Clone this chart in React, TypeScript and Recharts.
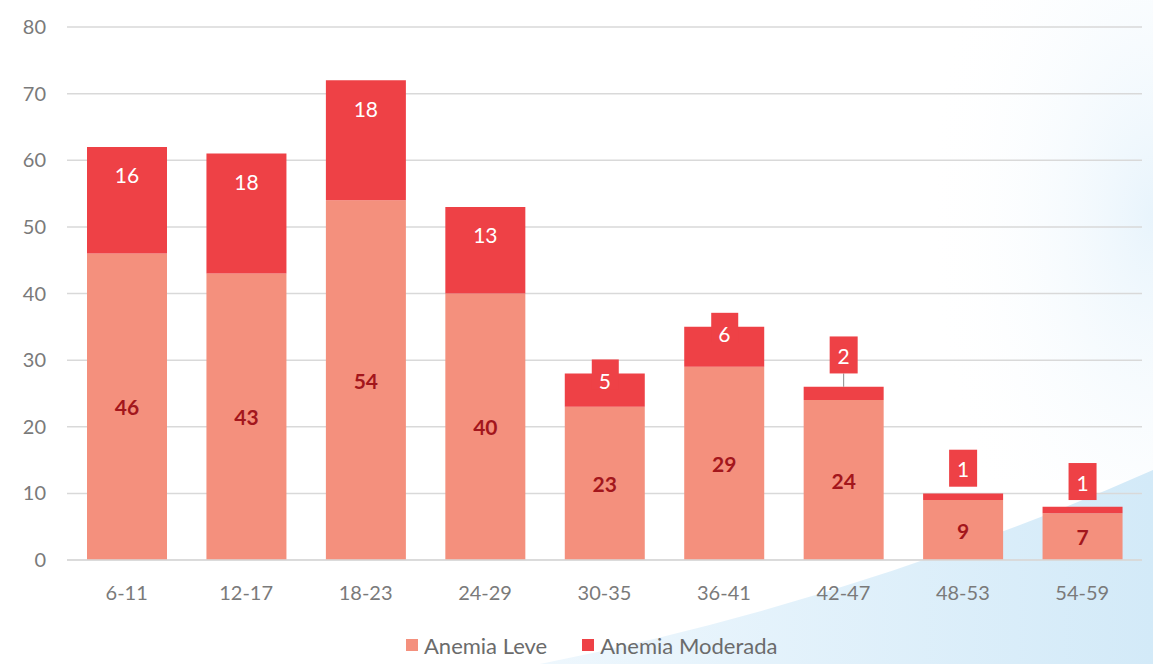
import { BarChart, Bar, XAxis, YAxis, CartesianGrid, Legend, LabelList } from 'recharts';

const ageGroups = ['6-11', '12-17', '18-23', '24-29', '30-35', '36-41', '42-47', '48-53', '54-59'];
const anemiaLeve = [46, 43, 54, 40, 23, 29, 24, 9, 7];
const anemiaModerada = [16, 18, 18, 13, 5, 6, 2, 1, 1];
const yTicks = [0, 10, 20, 30, 40, 50, 60, 70, 80];

const LEVE = '#F4907D';
const MODERADA = '#EE4146';
const DARK_LABEL = '#A3161C';
const AXIS_TEXT = '#7a7a7a';
const FONT = 'Lato, "Noto Sans", sans-serif';

const data = ageGroups.map((group, i) => ({
  group,
  leve: anemiaLeve[i],
  moderada: anemiaModerada[i],
}));

const LeveLabel = (props: any) => {
  const { x, y, width, height, value } = props;
  return (
    <text
      x={x + width / 2}
      y={y + height / 2}
      textAnchor="middle"
      dominantBaseline="central"
      fill={DARK_LABEL}
      fontWeight={700}
      fontSize={21}
      fontFamily={FONT}
    >
      {value}
    </text>
  );
};

const ModeradaLabel = (props: any) => {
  const { x, y, width, height, value } = props;
  const cx = x + width / 2;
  const text = (ty: number) => (
    <text
      x={cx}
      y={ty}
      textAnchor="middle"
      dominantBaseline="central"
      fill="#FFFFFF"
      fontSize={21}
      fontFamily={FONT}
    >
      {value}
    </text>
  );
  if (height >= 60) return text(y + 28);
  if (height >= 25) {
    // callout box sitting on top of the segment
    return (
      <g>
        <rect x={cx - 13} y={y - 14} width={27} height={30} fill={MODERADA} />
        {text(y + 7)}
      </g>
    );
  }
  const boxBottom = y - height;
  return (
    <g>
      {height > 8 && <line x1={cx} x2={cx} y1={boxBottom} y2={y} stroke="#8a8a8a" strokeWidth={1} />}
      <rect x={cx - 14} y={boxBottom - 37} width={28} height={37} fill={MODERADA} />
      {text(boxBottom - 18)}
    </g>
  );
};

const LegendContent = () => (
  <div
    style={{
      height: 28,
      display: 'flex',
      justifyContent: 'flex-start',
      alignItems: 'center',
      gap: 35,
      paddingLeft: 406,
      fontFamily: FONT,
      fontSize: 22,
      color: '#6b6b6b',
    }}
  >
    {[
      { name: 'Anemia Leve', color: LEVE },
      { name: 'Anemia Moderada', color: MODERADA },
    ].map((item) => (
      <div key={item.name} style={{ display: 'flex', alignItems: 'center', gap: 6 }}>
        <span style={{ width: 12, height: 12, background: item.color, display: 'inline-block' }} />
        <span>{item.name}</span>
      </div>
    ))}
  </div>
);

export default function App() {
  return (
    <div style={{ position: 'absolute', left: 0, top: 0, width: 1153, height: 664, background: '#ffffff', overflow: 'hidden' }}>
      <svg width={1153} height={664} style={{ position: 'absolute', left: 0, top: 0 }}>
        <defs>
          <linearGradient id="swoosh" x1="0" y1="0" x2="1" y2="0">
            <stop offset="0%" stopColor="#eef7fd" />
            <stop offset="100%" stopColor="#d3eaf8" />
          </linearGradient>
          <radialGradient id="glow" cx="1" cy="0.45" r="0.9">
            <stop offset="0%" stopColor="#e8f4fc" />
            <stop offset="100%" stopColor="#ffffff" stopOpacity={0} />
          </radialGradient>
        </defs>
        <rect x={900} y={0} width={253} height={480} fill="url(#glow)" />
        <path d="M 540 664 Q 860 600 1153 470 L 1153 664 Z" fill="url(#swoosh)" />
      </svg>
      <div style={{ position: 'absolute', left: 0, top: 0 }}>
        <BarChart
          width={1153}
          height={664}
          data={data}
          margin={{ top: 27, right: 11, bottom: 5, left: 0 }}
          barSize={80}
        >
          <CartesianGrid vertical={false} stroke="#d9d9d9" strokeWidth={1.5} />
          <XAxis
            dataKey="group"
            axisLine={{ stroke: '#d9d9d9', strokeWidth: 1.5 }}
            tickLine={false}
            tickSize={0}
            tickMargin={26}
            height={71}
            tick={{ fill: AXIS_TEXT, fontSize: 20, fontFamily: FONT }}
          />
          <YAxis
            domain={[0, 80]}
            ticks={yTicks}
            axisLine={false}
            tickLine={false}
            tickSize={0}
            tickMargin={21}
            width={67}
            tick={{ fill: AXIS_TEXT, fontSize: 20, fontFamily: FONT }}
          />
          <Legend verticalAlign="bottom" content={<LegendContent />} />
          <Bar dataKey="leve" name="Anemia Leve" stackId="a" fill={LEVE} isAnimationActive={false}>
            <LabelList dataKey="leve" content={<LeveLabel />} />
          </Bar>
          <Bar dataKey="moderada" name="Anemia Moderada" stackId="a" fill={MODERADA} isAnimationActive={false}>
            <LabelList dataKey="moderada" content={<ModeradaLabel />} />
          </Bar>
        </BarChart>
      </div>
    </div>
  );
}
